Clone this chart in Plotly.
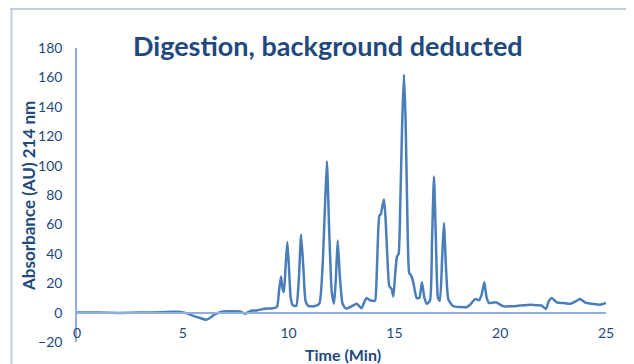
import plotly.graph_objects as go

time_min = [0, 1, 2, 3, 4, 4.5, 4.9, 5.2, 5.5, 5.8, 6.1, 6.3, 6.5, 6.9, 7.3, 7.7, 7.95, 8.2, 8.5, 8.8,
            9.0, 9.2, 9.45, 9.55, 9.64, 9.72, 9.78, 9.86, 9.94, 10.02, 10.1, 10.2, 10.36, 10.48, 10.59, 10.7,
            10.8, 10.93, 11.2, 11.45, 11.6, 11.7, 11.81, 11.92, 12.04, 12.15, 12.24, 12.32, 12.42, 12.55,
            12.71, 13.0, 13.22, 13.45, 13.6, 13.69, 13.85, 14.08, 14.15, 14.22, 14.29, 14.36, 14.44, 14.51,
            14.58, 14.66, 14.76, 14.87, 14.95, 15.03, 15.12, 15.2, 15.28, 15.37, 15.45, 15.53, 15.62, 15.7,
            15.8, 15.9, 16.05, 16.18, 16.3, 16.42, 16.53, 16.68, 16.78, 16.87, 16.96, 17.06, 17.15, 17.25,
            17.34, 17.44, 17.55, 17.78, 18.1, 18.42, 18.65, 18.81, 19.0, 19.12, 19.25, 19.36, 19.48, 19.8,
            20.15, 20.5, 20.78, 21.1, 21.41, 21.7, 21.95, 22.16, 22.3, 22.43, 22.67, 23.0, 23.3, 23.55,
            23.77, 24.0, 24.16, 24.45, 24.72, 25.0]

absorbance = [0.0, 0.0, -0.2, 0.0, 0.3, 0.5, 0.5, -0.5, -2.2, -3.6, -4.8, -3.5, -1.2, 0.8, 1.0, 0.8, -0.8, 1.2, 1.5, 2.5,
              2.8, 2.8, 4.0, 15, 24.5, 16, 14, 32, 48, 30, 10, 5, 4.5, 22, 53, 30,
              8, 4.5, 4.3, 6, 30, 65, 103, 55, 14, 6, 25, 49, 25, 6,
              2.7, 4.5, 6, 3, 8, 10, 8.4, 8, 20, 50, 66, 67, 73, 77,
              65, 40, 18, 16, 11, 25, 38, 40, 75, 130, 162, 130, 60, 27,
              25, 20, 10, 10, 20.6, 10, 6, 8, 50, 92.6, 50, 10, 8, 35,
              61, 30, 9, 4.3, 3.8, 3.8, 6.5, 9.3, 8.4, 12, 20.6, 10, 6.5, 7,
              4.3, 4.3, 4.5, 5, 5.4, 5, 4.8, 2.5, 8, 10, 7, 6.5, 6, 7.5,
              9.3, 7, 6.3, 5.8, 5.4, 6.6]

x_ticks = [0, 5, 10, 15, 20, 25]
y_ticks = [-20, 0, 20, 40, 60, 80, 100, 120, 140, 160, 180]

title_text = "Digestion, background deducted"
x_title = "Time (Min)"
y_title = "Absorbance (AU) 214 nm"

FONT = "Lato"
TXT = "#1F497D"
AXIS = "#8EB0DD"
FRAME = "#BFCDDF"

# the page body adds an 8px offset; figure pixel = page pixel - 8
OFF = 8
W, H = 634 - OFF, 364 - OFF
L, R, T, B = 77 - OFF, 606 - OFF, 48 - OFF, 342 - OFF
PW, PH = R - L, B - T


def px(xp):
    return (xp - OFF - L) / PW


def py(yp):
    return (B - (yp - OFF)) / PH


fig = go.Figure()
fig.add_trace(go.Scatter(
    x=time_min, y=absorbance, mode="lines",
    line=dict(color="#4A7EBB", width=2.5, shape="spline", smoothing=0.5),
    hoverinfo="skip", showlegend=False,
))

fig.update_layout(
    width=W, height=H,
    margin=dict(l=L, r=W - R, t=T, b=H - B),
    paper_bgcolor="white", plot_bgcolor="white",
    font=dict(family=FONT, color=TXT, size=13),
    xaxis=dict(range=[0, 25], tickvals=x_ticks, showgrid=False, zeroline=False,
               showline=True, linecolor=AXIS, linewidth=1.5,
               anchor="free", position=0.1, ticks="", ticklabelstandoff=8,
               tickfont=dict(family=FONT, size=14, color=TXT)),
    yaxis=dict(range=[-20, 180], tickvals=y_ticks, showgrid=False, zeroline=False,
               showline=True, linecolor=AXIS, linewidth=1.5, ticks="",
               ticklabelstandoff=10,
               tickfont=dict(family=FONT, size=14, color=TXT)),
    annotations=[
        dict(text="<b>" + title_text + "</b>", xref="paper", yref="paper",
             x=px(328), y=py(45), showarrow=False,
             xanchor="center", yanchor="middle",
             font=dict(family=FONT, size=27, color=TXT)),
        dict(text="<b>" + x_title + "</b>", xref="paper", yref="paper",
             x=px(343), y=py(354), showarrow=False,
             xanchor="center", yanchor="middle",
             font=dict(family=FONT, size=16, color=TXT)),
        dict(text="<b>" + y_title + "</b>", xref="paper", yref="paper",
             x=px(28), y=py(196), showarrow=False, textangle=-90,
             xanchor="center", yanchor="middle",
             font=dict(family=FONT, size=17, color=TXT)),
    ],
    shapes=[
        dict(type="line", xref="paper", yref="paper",
             x0=px(10), x1=px(634), y0=py(9), y1=py(9),
             line=dict(color=FRAME, width=2)),
        dict(type="line", xref="paper", yref="paper",
             x0=px(11.5), x1=px(11.5), y0=py(9), y1=py(364),
             line=dict(color=FRAME, width=2)),
    ],
)

fig.write_html("out.html")
